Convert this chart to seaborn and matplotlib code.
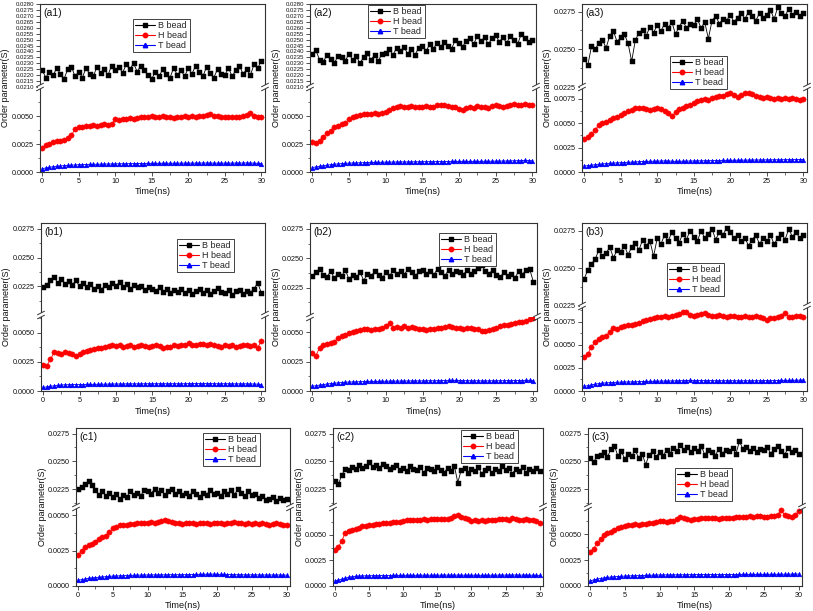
import numpy as np
import matplotlib
matplotlib.use("Agg")
import matplotlib.pyplot as plt
import seaborn as sns
from matplotlib.lines import Line2D
from matplotlib.patches import Rectangle
from matplotlib.ticker import FixedLocator, AutoMinorLocator, MultipleLocator, FormatStrFormatter

# ---------------- data (order parameter values in units of 1e-5, sampled every 0.5 ns) ----------------
TIME_STEP = 0.5
SCALE = 1e-5
SERIES_NAMES = ["B bead", "H bead", "T bead"]
PANEL_LABELS = ["(a1)", "(a2)", "(a3)", "(b1)", "(b2)", "(b3)", "(c1)", "(c2)", "(c3)"]
X_TICKS = [0, 5, 10, 15, 20, 25, 30]
LOWER_TICKS = [0.0, 0.0025, 0.0050, 0.0075]

a1_B = [2240, 2180, 2230, 2200, 2260, 2210, 2170, 2250, 2270, 2190,
        2230, 2180, 2260, 2210, 2190, 2270, 2220, 2250, 2200, 2280,
        2240, 2270, 2220, 2290, 2250, 2300, 2230, 2280, 2240, 2200,
        2170, 2230, 2190, 2250, 2210, 2180, 2260, 2200, 2240, 2190,
        2260, 2210, 2280, 2230, 2190, 2270, 2220, 2180, 2250, 2210,
        2200, 2260, 2190, 2240, 2280, 2210, 2250, 2200, 2290, 2260,
        2320]
a1_H = [215, 240, 250, 265, 275, 280, 290, 300, 330, 385,
        400, 405, 415, 410, 420, 415, 420, 425, 420, 430,
        470, 465, 475, 470, 480, 475, 485, 490, 495, 490,
        500, 495, 490, 500, 495, 490, 485, 490, 495, 500,
        495, 500, 490, 500, 505, 510, 515, 505, 500, 495,
        490, 495, 490, 495, 490, 500, 510, 525, 505, 490,
        495]
a1_T = [30, 36, 42, 47, 51, 54, 57, 59, 61, 63,
        65, 66, 67, 68, 69, 69, 70, 71, 71, 72,
        73, 73, 74, 74, 75, 75, 76, 76, 76, 77,
        77, 77, 77, 78, 78, 78, 78, 78, 79, 79,
        79, 79, 79, 80, 80, 80, 80, 79, 79, 79,
        79, 79, 79, 80, 80, 80, 81, 80, 79, 77,
        75]

a2_B = [2380, 2410, 2330, 2310, 2370, 2340, 2300, 2360, 2350, 2320,
        2380, 2330, 2360, 2300, 2350, 2390, 2330, 2370, 2320, 2380,
        2390, 2420, 2370, 2430, 2400, 2440, 2380, 2420, 2370, 2430,
        2450, 2400, 2460, 2420, 2470, 2440, 2480, 2450, 2420, 2500,
        2470, 2440, 2490, 2510, 2460, 2530, 2490, 2520, 2460, 2510,
        2540, 2480, 2520, 2470, 2530, 2500, 2460, 2550, 2510, 2480,
        2500]
a2_H = [265, 255, 280, 310, 350, 370, 400, 415, 425, 440,
        470, 490, 505, 510, 515, 520, 515, 525, 520, 530,
        535, 555, 575, 580, 590, 585, 580, 590, 585, 580,
        585, 590, 580, 585, 595, 600, 595, 590, 585, 580,
        560, 555, 570, 580, 575, 590, 585, 580, 575, 590,
        595, 590, 585, 590, 600, 605, 595, 600, 610, 600,
        595]
a2_T = [40, 45, 50, 56, 61, 65, 69, 72, 75, 77,
        79, 80, 81, 82, 83, 84, 85, 86, 86, 87,
        88, 88, 89, 89, 90, 90, 90, 91, 91, 91,
        92, 92, 92, 92, 93, 93, 93, 93, 94, 94,
        94, 94, 94, 94, 95, 95, 95, 96, 96, 96,
        97, 97, 98, 98, 99, 100, 101, 102, 103, 102,
        100]

a3_B = [2435, 2395, 2520, 2500, 2540, 2560, 2510, 2590, 2620, 2550,
        2580, 2600, 2540, 2420, 2560, 2610, 2630, 2590, 2650, 2610,
        2660, 2620, 2670, 2640, 2680, 2600, 2650, 2690, 2640, 2670,
        2660, 2700, 2640, 2680, 2570, 2690, 2720, 2670, 2700, 2690,
        2730, 2680, 2710, 2740, 2700, 2750, 2720, 2690, 2740, 2710,
        2730, 2760, 2700, 2780, 2740, 2720, 2770, 2730, 2750, 2720,
        2740]
a3_H = [340, 360, 390, 430, 480, 500, 510, 530, 550, 560,
        580, 600, 620, 630, 650, 660, 650, 640, 630, 640,
        650, 640, 620, 600, 570, 610, 640, 660, 680, 690,
        710, 730, 740, 750, 740, 760, 770, 780, 780, 800,
        810, 790, 770, 790, 810, 810, 800, 780, 770, 760,
        770, 760, 750, 760, 750, 760, 750, 760, 750, 740,
        750]
a3_T = [60, 65, 70, 74, 78, 82, 86, 89, 91, 93,
        95, 97, 99, 101, 103, 105, 107, 108, 109, 110,
        111, 112, 113, 113, 110, 108, 109, 110, 111, 112,
        113, 114, 114, 115, 116, 116, 117, 117, 118, 118,
        119, 120, 120, 121, 121, 122, 122, 123, 123, 124,
        124, 124, 125, 125, 125, 126, 126, 126, 127, 127,
        127]

b1_B = [2240, 2265, 2300, 2330, 2280, 2310, 2270, 2295, 2260, 2300,
        2250, 2280, 2240, 2270, 2230, 2255, 2220, 2260, 2240, 2275,
        2250, 2290, 2240, 2270, 2230, 2260, 2240, 2250, 2220, 2245,
        2230, 2210, 2240, 2200, 2225, 2190, 2215, 2200, 2230, 2195,
        2220, 2185, 2210, 2230, 2195, 2220, 2180, 2210, 2235, 2200,
        2190, 2215, 2175, 2205, 2220, 2185, 2210, 2195, 2230, 2280,
        2190]
b1_H = [225, 215, 270, 330, 325, 320, 330, 325, 315, 300,
        315, 330, 340, 350, 360, 365, 370, 380, 385, 390,
        385, 390, 380, 385, 390, 380, 385, 390, 385, 375,
        385, 390, 385, 370, 375, 380, 390, 385, 395, 390,
        410, 395, 390, 400, 405, 395, 400, 390, 385, 380,
        390, 385, 390, 380, 385, 390, 395, 385, 390, 370,
        430]
b1_T = [30, 35, 40, 44, 48, 51, 53, 54, 55, 55,
        55, 55, 56, 56, 57, 57, 58, 58, 59, 59,
        60, 60, 60, 61, 61, 61, 61, 61, 62, 62,
        62, 62, 62, 62, 62, 62, 62, 62, 62, 62,
        63, 63, 63, 63, 63, 63, 63, 62, 62, 62,
        62, 62, 61, 61, 61, 61, 61, 60, 60, 58,
        55]

b2_B = [2350, 2380, 2410, 2360, 2340, 2390, 2330, 2370, 2350, 2400,
        2320, 2360, 2340, 2380, 2310, 2370, 2350, 2390, 2360, 2330,
        2380, 2350, 2400, 2370, 2390, 2360, 2410, 2380, 2350, 2390,
        2400, 2370, 2390, 2360, 2410, 2380, 2350, 2400, 2370, 2390,
        2380, 2360, 2400, 2370, 2390, 2420, 2440, 2390, 2370, 2400,
        2360, 2340, 2380, 2350, 2370, 2330, 2390, 2360, 2400, 2410,
        2300]
b2_H = [320, 300, 370, 390, 400, 410, 420, 450, 465, 475,
        490, 500, 510, 520, 530, 525, 520, 525, 530, 535,
        550, 580, 540, 545, 540, 550, 535, 545, 540, 530,
        525, 520, 530, 525, 535, 540, 545, 550, 545, 540,
        535, 530, 540, 535, 530, 525, 515, 510, 520, 525,
        540, 550, 560, 565, 570, 580, 590, 585, 600, 610,
        620]
b2_T = [40, 45, 50, 55, 59, 63, 66, 69, 72, 74,
        76, 77, 78, 79, 80, 81, 81, 82, 82, 83,
        83, 84, 84, 84, 85, 85, 85, 86, 86, 86,
        86, 87, 87, 87, 88, 88, 89, 90, 91, 90,
        89, 88, 88, 87, 87, 87, 86, 86, 86, 87,
        87, 87, 88, 88, 88, 89, 89, 89, 90, 90,
        89]

b3_B = [2430, 2490, 2530, 2560, 2620, 2580, 2600, 2640, 2570, 2620,
        2610, 2650, 2590, 2640, 2670, 2620, 2690, 2650, 2680, 2580,
        2700, 2660, 2720, 2680, 2740, 2700, 2670, 2730, 2690, 2750,
        2710, 2680, 2750, 2700, 2730, 2760, 2690, 2740, 2720, 2770,
        2740, 2700, 2720, 2680, 2700, 2650, 2690, 2720, 2660, 2700,
        2680, 2720, 2660, 2700, 2730, 2690, 2760, 2710, 2740, 2700,
        2720]
b3_H = [370, 400, 480, 530, 560, 580, 600, 640, 680, 670,
        690, 700, 710, 715, 730, 740, 760, 770, 780, 790,
        800, 805, 810, 805, 815, 820, 830, 860, 850, 820,
        810, 820, 830, 840, 825, 815, 810, 820, 815, 805,
        810, 815, 805, 800, 810, 800, 805, 810, 800, 790,
        770, 785, 795, 800, 810, 840, 800, 805, 815, 810,
        805]
b3_T = [50, 58, 66, 74, 80, 85, 88, 90, 92, 94,
        95, 97, 98, 99, 100, 101, 102, 103, 104, 105,
        106, 107, 108, 108, 109, 110, 111, 112, 113, 114,
        113, 113, 112, 112, 112, 112, 111, 111, 111, 111,
        111, 111, 110, 110, 110, 111, 111, 111, 111, 112,
        112, 112, 113, 113, 114, 114, 115, 115, 116, 117,
        118]

c1_B = [2250, 2270, 2300, 2320, 2290, 2240, 2200, 2230, 2190, 2220,
        2180, 2210, 2160, 2200, 2180, 2230, 2200, 2220, 2190, 2240,
        2230, 2210, 2250, 2220, 2240, 2200, 2230, 2250, 2210, 2230,
        2200, 2220, 2190, 2230, 2210, 2180, 2220, 2200, 2240, 2210,
        2220, 2190, 2230, 2210, 2240, 2200, 2250, 2220, 2190, 2230,
        2200, 2210, 2170, 2190, 2150, 2160, 2180, 2140, 2170, 2150,
        2160]
c1_H = [220, 250, 280, 290, 300, 310, 335, 345, 355, 380,
        410, 420, 430, 430, 435, 440, 440, 445, 450, 445,
        450, 455, 450, 455, 460, 465, 460, 455, 450, 445,
        440, 445, 450, 445, 440, 445, 450, 445, 440, 445,
        450, 445, 440, 445, 450, 455, 450, 445, 440, 445,
        440, 445, 440, 445, 440, 435, 440, 445, 440, 435,
        430]
c1_T = [40, 45, 50, 54, 57, 60, 62, 64, 66, 68,
        70, 71, 72, 73, 74, 75, 76, 77, 77, 78,
        78, 78, 79, 79, 79, 79, 80, 80, 80, 80,
        80, 80, 81, 81, 82, 82, 83, 83, 84, 84,
        83, 82, 82, 81, 81, 80, 80, 80, 79, 79,
        79, 79, 79, 78, 78, 78, 78, 78, 78, 77,
        77]

c2_B = [2320, 2295, 2380, 2430, 2420, 2450, 2430, 2470, 2440, 2460,
        2490, 2450, 2470, 2440, 2480, 2460, 2430, 2450, 2470, 2420,
        2440, 2410, 2460, 2430, 2420, 2450, 2400, 2440, 2430, 2410,
        2450, 2420, 2400, 2440, 2410, 2460, 2310, 2420, 2440, 2400,
        2430, 2410, 2450, 2390, 2420, 2440, 2400, 2430, 2410, 2460,
        2420, 2440, 2390, 2430, 2410, 2450, 2400, 2430, 2410, 2440,
        2410]
c2_H = [350, 380, 440, 520, 540, 550, 560, 570, 580, 585,
        590, 595, 600, 605, 610, 615, 615, 620, 620, 625,
        635, 640, 645, 640, 645, 640, 650, 645, 650, 655,
        650, 655, 650, 655, 660, 680, 690, 670, 660, 650,
        635, 640, 630, 640, 635, 640, 645, 640, 650, 655,
        650, 645, 660, 650, 640, 645, 650, 640, 645, 630,
        615]
c2_T = [50, 58, 66, 75, 85, 90, 94, 97, 98, 99,
        100, 100, 101, 101, 102, 102, 102, 103, 103, 103,
        103, 104, 104, 104, 104, 105, 105, 105, 105, 105,
        105, 105, 106, 106, 106, 106, 106, 105, 105, 105,
        105, 105, 104, 104, 104, 105, 105, 105, 106, 106,
        106, 106, 107, 107, 106, 106, 106, 105, 105, 104,
        103]

c3_B = [2530, 2490, 2550, 2560, 2580, 2540, 2610, 2640, 2550, 2590,
        2520, 2570, 2550, 2600, 2530, 2570, 2470, 2560, 2590, 2540,
        2580, 2550, 2600, 2570, 2620, 2590, 2650, 2600, 2630, 2580,
        2620, 2590, 2640, 2560, 2600, 2580, 2550, 2610, 2570, 2600,
        2590, 2620, 2570, 2680, 2610, 2630, 2590, 2620, 2580, 2610,
        2600, 2630, 2570, 2610, 2640, 2590, 2560, 2620, 2580, 2600,
        2570]
c3_H = [330, 360, 410, 450, 490, 510, 520, 540, 560, 570,
        580, 585, 590, 595, 590, 595, 600, 610, 605, 615,
        630, 625, 620, 630, 625, 640, 660, 650, 640, 635,
        640, 645, 650, 655, 650, 655, 650, 645, 655, 650,
        650, 655, 660, 665, 660, 665, 670, 665, 670, 675,
        660, 665, 670, 675, 680, 730, 680, 670, 660, 680,
        720]
c3_T = [50, 58, 66, 72, 78, 82, 86, 89, 91, 93,
        95, 97, 98, 99, 100, 101, 102, 103, 104, 105,
        106, 106, 107, 107, 107, 108, 108, 108, 109, 109,
        110, 110, 110, 110, 110, 110, 110, 110, 110, 110,
        110, 110, 110, 111, 111, 111, 111, 111, 111, 111,
        112, 112, 112, 112, 112, 113, 113, 113, 114, 116,
        114]

SERIES = [(a1_B, a1_H, a1_T), (a2_B, a2_H, a2_T), (a3_B, a3_H, a3_T),
          (b1_B, b1_H, b1_T), (b2_B, b2_H, b2_T), (b3_B, b3_H, b3_T),
          (c1_B, c1_H, c1_T), (c2_B, c2_H, c2_T), (c3_B, c3_H, c3_T)]

# ---------------- layout / style (pixel boxes: left, right, top, bottom, break) ----------------
W, H = 813, 611
dense_up = [round(v, 4) for v in np.arange(0.0210, 0.02801, 0.0005)]
std_up = [0.0225, 0.0250, 0.0275]
LAYOUT = [
    dict(box=(40, 265, 4, 172, 87), up=(0.0210, 0.0280), lo=(0, 0.0076), ut=dense_up, dense=True, leg=(133, 19)),
    dict(box=(310, 536, 4, 172, 87), up=(0.0210, 0.0280), lo=(0, 0.0076), ut=dense_up, dense=True, leg=(368, 5)),
    dict(box=(582, 807, 4, 172, 87), up=(0.0225, 0.0280), lo=(0, 0.0087), ut=std_up, dense=False, leg=(670, 56)),
    dict(box=(41, 265, 223, 391, 315), up=(0.0200, 0.0280), lo=(0, 0.0065), ut=std_up, dense=False, leg=(177, 239)),
    dict(box=(310, 537, 223, 391, 317), up=(0.0200, 0.0280), lo=(0, 0.0063), ut=std_up, dense=False, leg=(439, 233)),
    dict(box=(582, 807, 223, 391, 306), up=(0.0225, 0.0280), lo=(0, 0.0092), ut=std_up, dense=False, leg=(667, 263)),
    dict(box=(76, 290, 428, 586, 507), up=(0.0209, 0.0280), lo=(0, 0.0056), ut=std_up, dense=False, leg=(203, 433)),
    dict(box=(333, 543, 428, 586, 507), up=(0.0209, 0.0280), lo=(0, 0.0077), ut=std_up, dense=False, leg=(461, 430)),
    dict(box=(588, 802, 428, 586, 507), up=(0.0209, 0.0280), lo=(0, 0.0076), ut=std_up, dense=False, leg=(675, 468)),
]
COLORS = ["black", "#ff0000", "#0000ff"]
MARKERS = ["s", "o", "^"]
MSIZE = [3.6, 3.8, 3.4]
SPINE = "#333333"

sns.set_style("ticks")
plt.rcParams["font.family"] = ["Liberation Sans", "DejaVu Sans"]
plt.rcParams["axes.edgecolor"] = SPINE
plt.rcParams["axes.linewidth"] = 0.8

fig = plt.figure(figsize=(W / 100, H / 100), dpi=100)


def fx(px):
    return px / W


def fy(py):
    return 1 - py / H


def draw(ax, vals, i):
    t = np.arange(len(vals)) * TIME_STEP
    y = np.asarray(vals) * SCALE
    sns.lineplot(x=t, y=y, ax=ax, color=COLORS[i], marker=MARKERS[i], markersize=MSIZE[i],
                 markeredgecolor=COLORS[i], markeredgewidth=0.3, linewidth=0.6,
                 estimator=None, legend=False)


def style_ticks(ax, size):
    ax.tick_params(axis="both", which="major", length=3, width=0.6, pad=1.5,
                   labelsize=size, color=SPINE, labelcolor="#111111")
    ax.tick_params(axis="both", which="minor", length=1.8, width=0.5, color=SPINE)
    ax.tick_params(right=False, top=False, which="both")


def break_mark(x, y):
    fig.add_artist(Rectangle((fx(x - 2.5), fy(y + 2.2)), 5 / W, 4.4 / H, transform=fig.transFigure,
                             facecolor="white", edgecolor="none", zorder=10))
    for dy in (-2.0, 2.0):
        fig.add_artist(Line2D([fx(x - 3.5), fx(x + 3.5)], [fy(y + dy + 1.8), fy(y + dy - 1.8)],
                              transform=fig.transFigure, color=SPINE, lw=0.7, zorder=11))


for k, (cfg, (sb, sh, st)) in enumerate(zip(LAYOUT, SERIES)):
    L, R, T, Bt, Brk = cfg["box"]
    ax_u = fig.add_axes([fx(L), fy(Brk), (R - L) / W, (Brk - T) / H])
    ax_l = fig.add_axes([fx(L), fy(Bt), (R - L) / W, (Bt - Brk) / H])

    draw(ax_u, sb, 0)
    draw(ax_l, sh, 1)
    draw(ax_l, st, 2)

    for ax in (ax_u, ax_l):
        ax.set_xlim(-0.3, 30.5)
        ax.set_xlabel("")
        ax.set_ylabel("")
        ax.xaxis.set_major_locator(FixedLocator(X_TICKS))
        ax.xaxis.set_minor_locator(MultipleLocator(2.5))
        ax.yaxis.set_major_formatter(FormatStrFormatter("%.4f"))

    ax_u.set_ylim(*cfg["up"])
    ax_l.set_ylim(*cfg["lo"])
    ax_u.yaxis.set_major_locator(FixedLocator(cfg["ut"]))
    if not cfg["dense"]:
        ax_u.yaxis.set_minor_locator(AutoMinorLocator(2))
    lo_top = cfg["lo"][1]
    ax_l.yaxis.set_major_locator(FixedLocator([v for v in LOWER_TICKS if v <= lo_top - 0.0005]))
    ax_l.yaxis.set_minor_locator(FixedLocator([v + 0.00125 for v in LOWER_TICKS if v + 0.00125 < lo_top]))
    ax_l.xaxis.set_major_formatter(FormatStrFormatter("%d"))

    ax_u.spines["bottom"].set_visible(False)
    ax_l.spines["top"].set_visible(False)
    style_ticks(ax_u, 4.3 if cfg["dense"] else 5.2)
    style_ticks(ax_l, 5.2)
    ax_u.tick_params(axis="x", which="both", bottom=False, labelbottom=False)

    break_mark(L, Brk)
    break_mark(R, Brk)

    fig.text(fx(L - 34), fy((T + Bt) / 2), "Order parameter(S)", rotation=90,
             ha="center", va="center", fontsize=6.5, color="#111111")
    fig.text(fx((L + R) / 2), fy(Bt + 20), "Time(ns)", ha="center", va="center",
             fontsize=6.6, color="#111111")
    fig.text(fx(L + 3), fy(T + 4), PANEL_LABELS[k], ha="left", va="top",
             fontsize=7.5, color="#111111")

    handles = [Line2D([], [], color=COLORS[i], marker=MARKERS[i], markersize=3.2,
                      markeredgecolor=COLORS[i], lw=0.8, label=SERIES_NAMES[i]) for i in range(3)]
    lx, ly = cfg["leg"]
    leg = fig.legend(handles=handles, loc="upper left", bbox_to_anchor=(fx(lx), fy(ly)),
                     bbox_transform=fig.transFigure, fontsize=6.5, frameon=True, fancybox=False,
                     edgecolor="#222222", framealpha=1, borderpad=0.25, labelspacing=0.1,
                     handlelength=2.2, handletextpad=0.35, borderaxespad=0)
    leg.get_frame().set_linewidth(0.6)

fig.savefig("out.png", dpi=100)
